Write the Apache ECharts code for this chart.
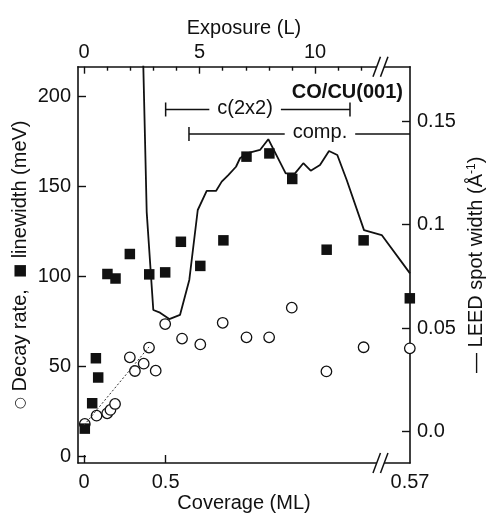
<!DOCTYPE html>
<html>
<head>
<meta charset="utf-8">
<script src="https://cdn.jsdelivr.net/npm/echarts@6/dist/echarts.min.js"></script>
<style>
  html, body { margin: 0; padding: 0; background: #fff; }
  #chart { width: 487px; height: 513px; }
</style>
</head>
<body>
<div id="chart"></div>
<script>
// Exposure axis (L): ticks and labels
const exposureMajor = [0, 5, 10];
const exposureMinor = [1, 2, 3, 4, 6, 7, 8, 9, 11, 12];
const exposureRange = [-0.264, 14.108];
const exposureBreak = 12.83;

// Coverage axis (ML): labels placed at the exposure they correspond to
const coverageLabels = ['0', '0.5', '0.57'];
const coverageAtExposure = [0, 3.53, 14.108];
const coverageTicked = [0, 3.53];

// Left axis (meV)
const leftTicks = [0, 50, 100, 150, 200];
const leftRange = [-3.5, 216.67];

// Right axis (1/Å)
const rightTicks = [0, 0.05, 0.1, 0.15];
const rightTickLabels = ['0.0', '0.05', '0.1', '0.15'];
const rightRange = [-0.01512, 0.17633];

// Linewidth (filled squares)
const lwExposure = [0.03, 0.35, 0.51, 0.61, 1.01, 1.36, 1.98, 2.82, 3.51, 4.19, 5.03, 6.03, 7.03, 8.02, 9.01, 10.5, 12.1, 14.1];
const lwValue    = [15.6, 29.7, 54.7, 44.0, 101.5, 99.0, 112.6, 101.3, 102.4, 119.4, 106.0, 120.2, 166.7, 168.5, 154.3, 115.0, 120.2, 88.0];

// Decay rate (open circles)
const drExposure = [0.03, 0.54, 1.0, 1.14, 1.34, 1.98, 2.2, 2.58, 2.81, 3.1, 3.51, 4.24, 5.03, 6.0, 7.03, 8.01, 8.99, 10.49, 12.1, 14.1];
const drValue    = [18.2, 22.8, 24.1, 26.0, 29.3, 55.2, 47.6, 51.7, 60.6, 47.8, 73.7, 65.6, 62.4, 74.4, 66.3, 66.3, 82.8, 47.4, 60.8, 60.2];

// Linear trend through the low-exposure decay rates
const trendExposure = [0.0, 2.81];
const trendValue    = [17.5, 61.0];

// LEED spot width (solid line, right axis)
const leedExposure = [2.535, 2.564, 2.71, 2.996, 3.286, 3.688, 4.152, 4.554, 4.92, 5.307, 5.71, 5.957, 6.242, 6.576, 6.749, 7.039, 7.615, 7.974, 8.727, 9.13, 9.489, 9.81, 10.212, 10.602, 10.961, 11.368, 12.117, 12.883, 14.108];
const leedWidth    = [0.19, 0.1763, 0.1061, 0.0588, 0.0575, 0.0544, 0.0564, 0.0733, 0.1071, 0.1163, 0.1163, 0.1208, 0.124, 0.128, 0.1321, 0.1345, 0.1361, 0.1413, 0.1248, 0.1248, 0.1297, 0.1261, 0.1288, 0.1356, 0.1337, 0.1216, 0.0974, 0.095, 0.0765];

// Phase ranges shown as brackets
const phaseNames  = ['c(2x2)', 'comp.'];
const phaseFrom   = [3.53, 4.54];
const phaseTo     = [11.51, 14.108];
const phaseLevel  = [192.9, 179.3];
const phaseTextAt = [6.97, 10.21];
const phaseEndCap = [1, 0];

const FONT = '"Liberation Sans", Arial, Helvetica, "DejaVu Sans", sans-serif';
const FS = 20;
const INK = '#111';

const zip = (a, b) => a.map((v, i) => [v, b[i]]);

const measureCtx = document.createElement('canvas').getContext('2d');
function textWidth(t) {
  measureCtx.font = FS + 'px ' + FONT;
  return measureCtx.measureText(t).width;
}

const axisLine = { show: true, onZero: false, lineStyle: { color: INK, width: 1.6 } };
const tickStyle = { color: INK, width: 1.4 };
const labelStyle = { color: INK, fontSize: FS, fontFamily: FONT };

const chart = echarts.init(document.getElementById('chart'), null, { renderer: 'canvas' });

const option = {
  animation: false,
  backgroundColor: '#fff',
  title: {
    text: 'CO/CU(001)',
    right: 84,
    top: 82,
    padding: 0,
    textStyle: { fontSize: FS, fontWeight: 'bold', fontFamily: FONT, color: INK }
  },
  grid: { left: 78, right: 77, top: 66.7, bottom: 50, containLabel: false, outerBoundsMode: 'none' },
  xAxis: [
    {
      type: 'value', position: 'top',
      min: exposureRange[0], max: exposureRange[1],
      axisLine: axisLine,
      axisTick: { show: true, inside: true, length: 7, customValues: exposureMajor, lineStyle: tickStyle },
      axisLabel: Object.assign({ customValues: exposureMajor, margin: 4 }, labelStyle),
      splitLine: { show: false },
      name: 'Exposure (L)', nameLocation: 'middle', nameGap: 28, nameMoveOverlap: false,
      nameTextStyle: { fontSize: FS, fontFamily: FONT, color: INK }
    },
    {
      type: 'value', position: 'top',
      min: exposureRange[0], max: exposureRange[1],
      axisLine: { show: false, onZero: false },
      axisTick: { show: true, inside: true, length: 4, customValues: exposureMinor, lineStyle: tickStyle },
      axisLabel: { show: false },
      splitLine: { show: false }
    },
    {
      type: 'value', position: 'bottom',
      min: exposureRange[0], max: exposureRange[1],
      axisLine: axisLine,
      axisTick: { show: true, inside: true, length: 8, customValues: coverageTicked, lineStyle: tickStyle },
      axisLabel: Object.assign({
        customValues: coverageAtExposure, margin: 9,
        formatter: v => {
          const i = coverageAtExposure.findIndex(c => Math.abs(c - v) < 1e-6);
          return i >= 0 ? coverageLabels[i] : '';
        }
      }, labelStyle),
      splitLine: { show: false },
      name: 'Coverage (ML)', nameLocation: 'middle', nameGap: 30, nameMoveOverlap: false,
      nameTextStyle: { fontSize: FS, fontFamily: FONT, color: INK }
    }
  ],
  yAxis: [
    {
      type: 'value', position: 'left',
      min: leftRange[0], max: leftRange[1],
      axisLine: axisLine,
      axisTick: { show: true, inside: true, length: 8, customValues: leftTicks, lineStyle: tickStyle },
      axisLabel: Object.assign({ customValues: leftTicks, margin: 7 }, labelStyle),
      splitLine: { show: false },
      name: '{sym|○} Decay rate,  {sq|■} linewidth (meV)',
      nameLocation: 'middle', nameRotate: 90, nameGap: 48, nameMoveOverlap: false,
      nameTextStyle: {
        fontSize: FS, fontFamily: FONT, color: INK,
        rich: {
          sym: { fontSize: 14, fontFamily: '"DejaVu Sans", sans-serif', color: INK },
          sq: { fontSize: 15, fontFamily: '"DejaVu Sans", sans-serif', color: INK }
        }
      }
    },
    {
      type: 'value', position: 'right',
      min: rightRange[0], max: rightRange[1],
      axisLine: axisLine,
      axisTick: { show: true, inside: true, length: 8, customValues: rightTicks, lineStyle: tickStyle },
      axisLabel: Object.assign({
        customValues: rightTicks, margin: 7,
        formatter: v => {
          const i = rightTicks.findIndex(c => Math.abs(c - v) < 1e-9);
          return i >= 0 ? rightTickLabels[i] : '';
        }
      }, labelStyle),
      splitLine: { show: false },
      name: '— LEED spot width (Å{sup|-1})',
      nameLocation: 'middle', nameRotate: 90, nameGap: 56, nameMoveOverlap: false,
      nameTextStyle: {
        fontSize: FS, fontFamily: FONT, color: INK,
        rich: { sup: { fontSize: 12, fontFamily: FONT, color: INK, verticalAlign: 'top', lineHeight: 14 } }
      }
    }
  ],
  series: [
    {
      name: 'LEED spot width', type: 'line', xAxisIndex: 0, yAxisIndex: 1,
      data: zip(leedExposure, leedWidth),
      showSymbol: false, clip: true,
      lineStyle: { color: INK, width: 1.8 }
    },
    {
      name: 'trend', type: 'line', xAxisIndex: 0, yAxisIndex: 0,
      data: zip(trendExposure, trendValue),
      showSymbol: false,
      lineStyle: { color: '#333', width: 1, type: [2, 2] }
    },
    {
      name: 'Decay rate', type: 'scatter', xAxisIndex: 0, yAxisIndex: 0,
      data: zip(drExposure, drValue),
      symbol: 'circle', symbolSize: 10.5, clip: false,
      itemStyle: { color: '#fff', borderColor: INK, borderWidth: 1.3, opacity: 1 }
    },
    {
      name: 'Linewidth', type: 'scatter', xAxisIndex: 0, yAxisIndex: 0,
      data: zip(lwExposure, lwValue),
      symbol: 'rect', symbolSize: 10.5, clip: false,
      itemStyle: { color: INK, opacity: 1 }
    },
    {
      name: 'phases', type: 'custom', xAxisIndex: 0, yAxisIndex: 0, clip: false,
      data: phaseNames.map((n, i) => [phaseFrom[i], phaseTo[i], phaseLevel[i], phaseTextAt[i], phaseEndCap[i], i]),
      renderItem: (params, api) => {
        const lvl = api.value(2);
        const a = api.coord([api.value(0), lvl]);
        const b = api.coord([api.value(1), lvl]);
        const t = api.coord([api.value(3), lvl]);
        const label = phaseNames[api.value(5)];
        const half = textWidth(label) / 2 + 8;
        const st = { stroke: INK, lineWidth: 1.5 };
        const cap = 7;
        const kids = [
          { type: 'line', shape: { x1: a[0], y1: a[1], x2: t[0] - half, y2: a[1] }, style: st },
          { type: 'line', shape: { x1: t[0] + half, y1: a[1], x2: b[0], y2: a[1] }, style: st },
          { type: 'line', shape: { x1: a[0], y1: a[1] - cap, x2: a[0], y2: a[1] + cap }, style: st },
          { type: 'text', x: t[0], y: a[1] - 1,
            style: { text: label, fill: INK, font: FS + 'px ' + FONT, textAlign: 'center', textVerticalAlign: 'middle' } }
        ];
        if (api.value(4)) {
          kids.push({ type: 'line', shape: { x1: b[0], y1: b[1] - cap, x2: b[0], y2: b[1] + cap }, style: st });
        }
        return { type: 'group', children: kids };
      }
    },
    {
      name: 'axis break', type: 'custom', xAxisIndex: 0, yAxisIndex: 0, clip: false,
      data: [[exposureBreak]],
      renderItem: (params, api) => {
        const cs = params.coordSys;
        const cx = api.coord([api.value(0), 0])[0];
        const kids = [];
        [cs.y, cs.y + cs.height].forEach(y => {
          kids.push({ type: 'rect', shape: { x: cx - 3.5, y: y - 2, width: 7, height: 4 }, style: { fill: '#fff' } });
          kids.push({ type: 'line', shape: { x1: cx - 7.5, y1: y + 10, x2: cx, y2: y - 10 }, style: { stroke: INK, lineWidth: 1.5 } });
          kids.push({ type: 'line', shape: { x1: cx, y1: y + 10, x2: cx + 7.5, y2: y - 10 }, style: { stroke: INK, lineWidth: 1.5 } });
        });
        return { type: 'group', children: kids };
      }
    }
  ]
};

chart.setOption(option);
</script>
</body>
</html>
